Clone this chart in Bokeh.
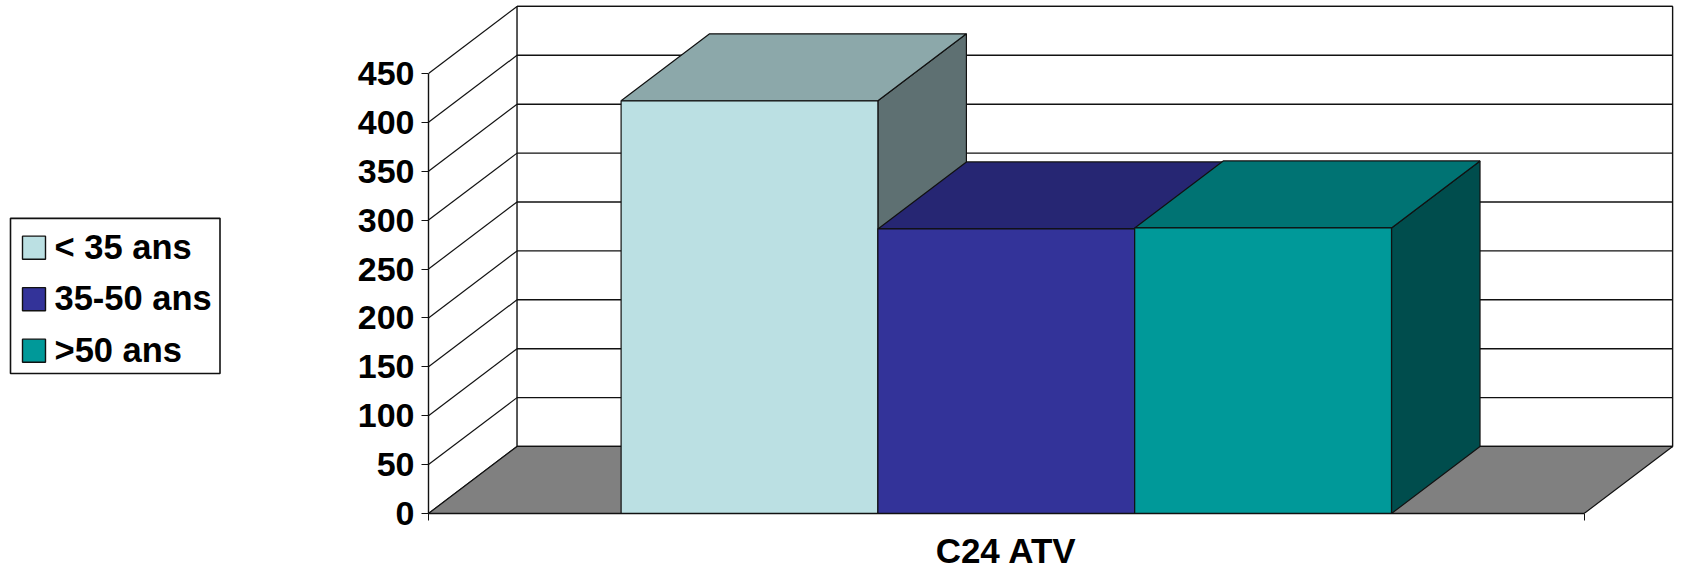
from bokeh.core.properties import value
from bokeh.embed import file_html
from bokeh.layouts import row
from bokeh.models import FixedTicker, Range1d
from bokeh.plotting import figure
from bokeh.resources import INLINE

# Series of the single category, with their face colours
categories = ["C24 ATV"]
series_names = ["< 35 ans", "35-50 ans", ">50 ans"]
series_values = [422, 291, 292]
front_colors = ["#BBE0E3", "#333399", "#009999"]
top_colors = ["#8CA8AA", "#262673", "#007373"]
side_colors = ["#5E7072", "#1A1A4D", "#004D4D"]
y_ticks = [0, 50, 100, 150, 200, 250, 300, 350, 400, 450]

# Oblique projection of the depth axis, in data units
DEPTH_X = 0.0766
DEPTH_Y = 68.5
GAP_RATIO = 1.5
FONT = "Liberation Sans"
INK = "#111111"

LEGEND_PANEL_W = 340
AXIS_X = 428
FRAME_H = 513
KEY_FRAME_H = 504
UNIT_X = 1155.6
UNIT_Y = 0.978

p = figure(
    width=1681 - LEGEND_PANEL_W, height=565, output_backend="svg", toolbar_location=None,
    x_range=Range1d(0, (1681 - AXIS_X) / UNIT_X), y_range=Range1d(0, FRAME_H / UNIT_Y),
    frame_height=FRAME_H, frame_width=1681 - AXIS_X,
    min_border_left=AXIS_X - LEGEND_PANEL_W, min_border_right=0, min_border_top=0, min_border_bottom=52,
    background_fill_color="white", border_fill_color="white",
    outline_line_color=None,
)
p.grid.visible = False

# Back wall with its horizontal grid lines
top_tick = y_ticks[-1]
p.patch([DEPTH_X, 1 + DEPTH_X, 1 + DEPTH_X, DEPTH_X],
        [DEPTH_Y, DEPTH_Y, top_tick + DEPTH_Y, top_tick + DEPTH_Y],
        fill_color="white", line_color=INK, line_width=1.4)
p.multi_line([[DEPTH_X, 1 + DEPTH_X] for _ in y_ticks],
             [[v + DEPTH_Y, v + DEPTH_Y] for v in y_ticks],
             line_color=INK, line_width=1.4)

# Diagonal grid lines on the side wall
p.multi_line([[0, DEPTH_X] for _ in y_ticks],
             [[v, v + DEPTH_Y] for v in y_ticks],
             line_color=INK, line_width=1.2)

# Floor
p.patch([0, 1, 1 + DEPTH_X, DEPTH_X], [0, 0, DEPTH_Y, DEPTH_Y],
        fill_color="#808080", line_color=INK, line_width=1.2)

# Boxes, drawn left to right so each one overlaps its neighbour's side
bar_width = 1 / (len(series_values) + GAP_RATIO)
margin = bar_width * GAP_RATIO / 2
for i, val in enumerate(series_values):
    left = margin + i * bar_width
    right = left + bar_width
    p.patch([right, right + DEPTH_X, right + DEPTH_X, right],
            [0, DEPTH_Y, val + DEPTH_Y, val],
            fill_color=side_colors[i], line_color=INK, line_width=1.2)
    p.patch([left, right, right + DEPTH_X, left + DEPTH_X],
            [val, val, val + DEPTH_Y, val + DEPTH_Y],
            fill_color=top_colors[i], line_color=INK, line_width=1.2)
    p.quad(left=left, right=right, bottom=0, top=val,
           fill_color=front_colors[i], line_color=INK, line_width=1.2)

# Value axis
yaxis = p.yaxis[0]
yaxis.bounds = (y_ticks[0], y_ticks[-1])
yaxis.ticker = FixedTicker(ticks=y_ticks)
yaxis.major_tick_out = 7
yaxis.major_tick_in = 0
yaxis.minor_tick_out = 0
yaxis.minor_tick_in = 0
yaxis.major_label_standoff = 7
yaxis.major_label_text_font = FONT
yaxis.major_label_text_font_style = "bold"
yaxis.major_label_text_font_size = "34px"
yaxis.major_label_text_color = "black"
yaxis.axis_line_color = INK
yaxis.axis_line_width = 1.4
yaxis.major_tick_line_color = INK

# Category axis: the name at the middle, small ticks at both ends of the floor
xaxis = p.xaxis[0]
xaxis.bounds = (0, 1)
xaxis.ticker = FixedTicker(ticks=[0.5], minor_ticks=[0, 1])
xaxis.major_label_overrides = {0.5: categories[0]}
xaxis.major_label_text_font = FONT
xaxis.major_label_text_font_style = "bold"
xaxis.major_label_text_font_size = "35px"
xaxis.major_label_text_color = "black"
xaxis.major_label_standoff = 10
xaxis.major_tick_out = 0
xaxis.major_tick_in = 0
xaxis.minor_tick_out = 7
xaxis.minor_tick_in = 0
xaxis.axis_line_color = INK
xaxis.axis_line_width = 1.4
xaxis.minor_tick_line_color = INK

# Separate panel on the left holding the legend box; the row shares the bottom
# band with the main figure, so the key's ranges span the remaining height
key = figure(
    width=LEGEND_PANEL_W, height=565, output_backend="svg", toolbar_location=None,
    x_range=Range1d(0, LEGEND_PANEL_W), y_range=Range1d(KEY_FRAME_H, 0),
    min_border=0, outline_line_color=None, x_axis_type=None, y_axis_type=None,
    background_fill_color="white", border_fill_color="white",
)
key.grid.visible = False
key.quad(left=10, right=219.5, top=217, bottom=371.5,
         fill_color="white", line_color=INK, line_width=1.6)
ROW_PITCH = 51.3
SWATCH = 23
for i, (name, color) in enumerate(zip(series_names, front_colors)):
    y_top = 234.7 + i * ROW_PITCH
    key.quad(left=22, right=22 + SWATCH, top=y_top, bottom=y_top + SWATCH,
             fill_color=color, line_color=INK, line_width=1.4)
    key.text(x=54, y=y_top + SWATCH / 2 - 1, text=[name], text_baseline="middle",
             text_font=value(FONT), text_font_style="bold",
             text_font_size="34.5px", text_color="black")

page = row(key, p, spacing=0)
open("out.html", "w").write(file_html(page, INLINE))
